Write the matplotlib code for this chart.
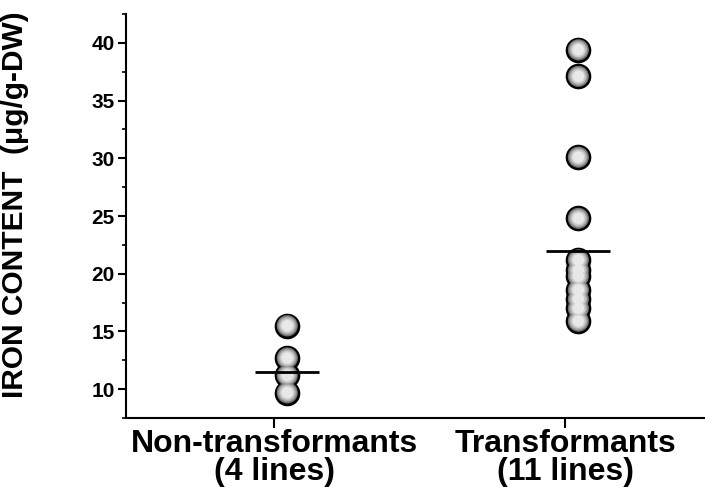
import matplotlib
matplotlib.use("Agg")
import matplotlib.pyplot as plt
import numpy as np
from matplotlib.ticker import MultipleLocator

plt.rcParams['font.family'] = ['Liberation Sans', 'DejaVu Sans']

categories = ["Non-transformants\n(4 lines)", "Transformants\n(11 lines)"]
non_transformants = [15.5, 12.7, 11.2, 9.7]
transformants = [39.4, 37.1, 30.1, 24.8, 21.2, 20.3, 19.8, 18.6, 17.8, 17.0, 15.9]
group_means = [11.5, 22.0]
groups = [non_transformants, transformants]

fig = plt.figure(figsize=(7.05, 4.98), dpi=100)
ax = fig.add_axes([0.1787, 0.1606, 0.8213, 0.8113])

point_offset = 0.045
marker_s = 270
layers = [(1.00, '#4a4a4a'), (0.85, '#6e6e6e'), (0.70, '#909090'),
          (0.55, '#b0b0b0'), (0.40, '#cecece'), (0.25, '#e8e8e8')]
for i, vals in enumerate(groups):
    xs = np.full(len(vals), i + point_offset)
    for k, (frac, col) in enumerate(layers):
        ax.scatter(xs, vals, s=marker_s * frac, c=col,
                   edgecolors='black' if k == 0 else 'none',
                   linewidths=2.0 if k == 0 else 0, zorder=3 + k * 0.01)
    ax.hlines(group_means[i], i + point_offset - 0.11, i + point_offset + 0.11,
              colors='black', linewidth=2.0, zorder=5)

ax.set_xlim(-0.509, 1.48)
ax.set_ylim(7.5, 42.5)
ax.set_xticks([0, 1])
ax.set_xticklabels(categories, fontsize=23, fontweight='bold', linespacing=0.92)
ax.yaxis.set_major_locator(MultipleLocator(5))
ax.yaxis.set_minor_locator(MultipleLocator(2.5))
ax.set_yticks([10, 15, 20, 25, 30, 35, 40])
ax.tick_params(axis='y', which='major', direction='out', length=6, width=1.5,
               labelsize=15, pad=2)
ax.tick_params(axis='y', which='minor', direction='out', length=3, width=1.2)
ax.tick_params(axis='x', which='major', direction='out', length=7, width=1.5, pad=1)
for lab in ax.get_yticklabels():
    lab.set_fontweight('bold')

ax.spines['top'].set_visible(False)
ax.spines['right'].set_visible(False)
ax.spines['left'].set_linewidth(1.5)
ax.spines['bottom'].set_linewidth(1.5)

ax.set_ylabel("IRON CONTENT  (\u03bcg/g-DW)", fontsize=21.5, fontweight='bold')
ax.yaxis.set_label_coords(-0.168, 0.527)

fig.savefig("out.png", dpi=100)
